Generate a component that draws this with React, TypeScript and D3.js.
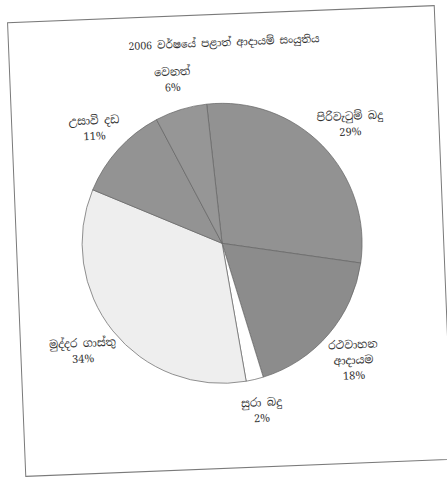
import { useEffect, useRef } from 'react'
import * as d3 from 'd3'

// 2006 provincial revenue composition (percent)
const title = '2006 වර්ෂයේ පළාත් ආදායම් සංයුතිය'
const categories = [['පිරිවැටුම් බදු'], ['රථවාහන', 'ආදායම'], ['සුරා බදු'], ['මුද්දර ගාස්තු'], ['උසාවි දඩ'], ['වෙනත්']]
const shares = [29, 18, 2, 34, 11, 6]
const sliceFills = ['#929292', '#8c8c8c', '#ffffff', '#eeeeee', '#939393', '#969696']

export default function App() {
  const ref = useRef<SVGSVGElement | null>(null)
  const width = 447
  const height = 478

  useEffect(() => {
    const svg = d3.select(ref.current)
    svg.selectAll('*').remove()
    svg.attr('width', width).attr('height', height)

    const font = "'Iskoola Pota', 'Noto Serif Sinhala', 'Noto Sans Sinhala', 'Liberation Serif', serif"
    // the scanned page is slightly tilted
    const root = svg.append('g').attr('transform', 'rotate(-2.3, 230, 241)')

    root.append('rect')
      .attr('x', 16.5)
      .attr('y', 14)
      .attr('width', 427)
      .attr('height', 454)
      .attr('fill', '#fff')
      .attr('stroke', '#7a7a7a')
      .attr('stroke-width', 1)

    root.append('text')
      .attr('x', 232)
      .attr('y', 46)
      .attr('text-anchor', 'middle')
      .attr('font-family', font)
      .attr('font-size', 10.5)
      .attr('fill', '#333')
      .text(title)

    const cx = 222
    const cy = 243
    const radius = 140
    const start = -0.07

    const pie = d3.pie<number>().sort(null).value((d) => d).startAngle(start).endAngle(start + Math.PI * 2)
    const arcs = pie(shares)
    const arc = d3.arc<d3.PieArcDatum<number>>().innerRadius(0).outerRadius(radius)

    const g = root.append('g').attr('transform', `translate(${cx},${cy})`)
    g.selectAll('path')
      .data(arcs)
      .enter()
      .append('path')
      .attr('d', arc)
      .attr('fill', (_d, i) => sliceFills[i])
      .attr('stroke', '#666')
      .attr('stroke-width', 0.7)

    // labels outside the pie, along each slice's mid angle
    arcs.forEach((a, i) => {
      const mid = (a.startAngle + a.endAngle) / 2
      const dx = Math.sin(mid)
      const dy = -Math.cos(mid)
      const lines = categories[i].concat([`${shares[i]}%`])
      const n = lines.length
      const lh = 15.5
      const t = g.append('text')
        .attr('text-anchor', 'middle')
        .attr('font-family', font)
        .attr('font-size', 11)
        .attr('fill', '#333')
      const spans = lines.map((s) => t.append('tspan').text(s))
      const w = d3.max(spans, (s) => (s.node() as SVGTSpanElement).getComputedTextLength()) ?? 40
      const x = (radius + 16) * dx + (dx * w) / 3
      const y = (radius + 16) * dy + (dy * n * lh) / 2
      spans.forEach((s, j) => {
        s.attr('x', x).attr('y', y - ((n - 1) * lh) / 2 + j * lh + 4)
      })
    })
  }, [])

  return <svg ref={ref} style={{ position: 'absolute', left: 0, top: 0 }} />
}
